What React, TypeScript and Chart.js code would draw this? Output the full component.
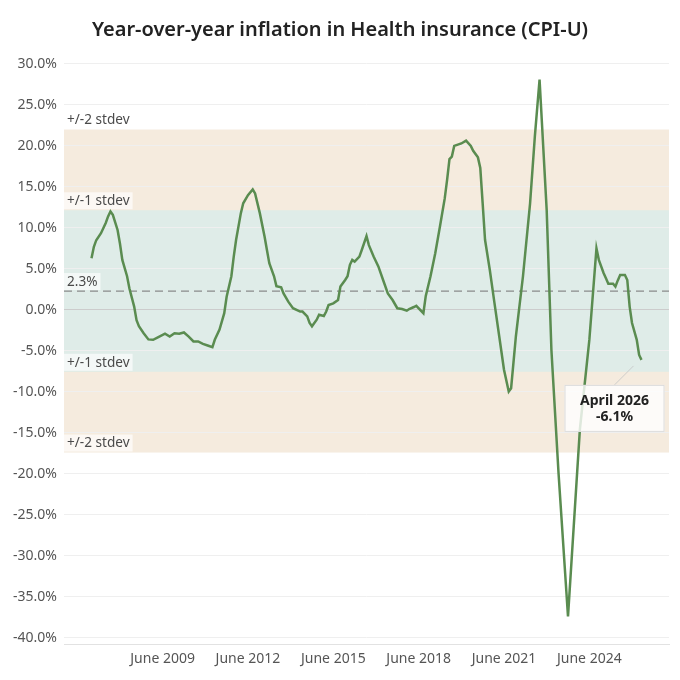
import React, { useEffect, useRef } from "react";
import { Chart, registerables } from "chart.js";

Chart.register(...registerables);

const TITLE = "Year-over-year inflation in Health insurance (CPI-U)";
const FONT = "'Noto Sans', 'DejaVu Sans', sans-serif";

const months = [
  "2006-12", "2007-01", "2007-02", "2007-04", "2007-06", "2007-07", "2007-08", "2007-09", "2007-11", "2007-12",
  "2008-01", "2008-03", "2008-04", "2008-06", "2008-07", "2008-08", "2008-10", "2008-12",
  "2009-02", "2009-04", "2009-07", "2009-09", "2009-11",
  "2010-01", "2010-03", "2010-05", "2010-07", "2010-09", "2010-11",
  "2011-01", "2011-03", "2011-04", "2011-06", "2011-08", "2011-09", "2011-11", "2011-12",
  "2012-01", "2012-03", "2012-04", "2012-06", "2012-08", "2012-09", "2012-11",
  "2013-01", "2013-02", "2013-03", "2013-05", "2013-06", "2013-08", "2013-09", "2013-11",
  "2014-01", "2014-04", "2014-05", "2014-07", "2014-08", "2014-09", "2014-11", "2014-12",
  "2015-02", "2015-03", "2015-04", "2015-06", "2015-08", "2015-09", "2015-11", "2015-12",
  "2016-01", "2016-02", "2016-03", "2016-05", "2016-06", "2016-08", "2016-09", "2016-11",
  "2017-01", "2017-03", "2017-05", "2017-07", "2017-09", "2017-11",
  "2018-01", "2018-02", "2018-04", "2018-05", "2018-08", "2018-09", "2018-11",
  "2019-01", "2019-03", "2019-05", "2019-06", "2019-07", "2019-08", "2019-09", "2019-12",
  "2020-02", "2020-04", "2020-05", "2020-07", "2020-08", "2020-09", "2020-10", "2020-12",
  "2021-02", "2021-04", "2021-06", "2021-08", "2021-09", "2021-11",
  "2022-02", "2022-05", "2022-07", "2022-09", "2022-12",
  "2023-02", "2023-05", "2023-09",
  "2024-02", "2024-06", "2024-09", "2024-10", "2024-12",
  "2025-01", "2025-02", "2025-04", "2025-05", "2025-06", "2025-07", "2025-09", "2025-10", "2025-11", "2025-12",
  "2026-02", "2026-03", "2026-04",
];

const values = [
  6.3, 7.7, 8.5, 9.35, 10.6, 11.4, 12.0, 11.6, 9.75, 8.1,
  6.1, 4.1, 2.6, 0.4, -1.25, -2.0, -2.85, -3.6,
  -3.65, -3.35, -2.9, -3.25, -2.85,
  -2.9, -2.75, -3.25, -3.85, -3.85, -4.15,
  -4.35, -4.55, -3.65, -2.4, -0.4, 1.6, 4.1, 6.5,
  8.55, 11.8, 13.0, 14.0, 14.7, 14.2, 11.8,
  8.95, 7.3, 5.7, 4.1, 2.9, 2.75, 2.0, 1.0,
  0.2, -0.2, -0.2, -0.8, -1.6, -2.0, -1.2, -0.6,
  -0.75, -0.2, 0.6, 0.8, 1.2, 2.85, 3.65, 4.1,
  5.5, 6.1, 5.9, 6.5, 7.3, 9.0, 7.9, 6.5,
  5.3, 3.65, 2.0, 1.2, 0.2, 0.1,
  -0.1, 0.1, 0.35, 0.5, -0.4, 1.7, 4.1,
  6.9, 10.2, 13.6, 15.85, 18.4, 18.7, 20.0, 20.3,
  20.65, 20.0, 19.4, 18.6, 17.3, 13.0, 8.55, 4.9,
  0.8, -3.25, -7.3, -9.95, -9.55, -3.25,
  4.1, 13.0, 21.1, 28.1, 12.2,
  -4.9, -19.9, -37.4,
  -14.6, -3.66, 7.5, 6.1, 4.5,
  3.85, 3.2, 3.2, 2.85, 3.6, 4.25, 4.25, 3.65, 0.4, -1.6,
  -3.65, -5.5, -6.1,
];

const xTickDates = ["2009-06", "2012-06", "2015-06", "2018-06", "2021-06", "2024-06"];
const xTickLabels = ["June 2009", "June 2012", "June 2015", "June 2018", "June 2021", "June 2024"];
const yTicks = [-40, -35, -30, -25, -20, -15, -10, -5, 0, 5, 10, 15, 20, 25, 30];
const monthNames = [
  "January", "February", "March", "April", "May", "June",
  "July", "August", "September", "October", "November", "December",
];

const MEAN = 2.3;
const STDEV = 9.85;
const band2Label = "+/-2 stdev";
const band1Label = "+/-1 stdev";

const toYear = (s: string) => {
  const [y, m] = s.split("-").map(Number);
  return y + (m - 1) / 12;
};

const bandsPlugin = {
  id: "bands",
  beforeDraw(chart: any) {
    const { ctx, chartArea, scales } = chart;
    const y = scales.y;
    const { left, right } = chartArea;
    ctx.save();
    const t2 = y.getPixelForValue(MEAN + 2 * STDEV);
    const b2 = y.getPixelForValue(MEAN - 2 * STDEV);
    ctx.fillStyle = "#f5ebde";
    ctx.fillRect(left, t2, right - left, b2 - t2);
    const t1 = y.getPixelForValue(MEAN + STDEV);
    const b1 = y.getPixelForValue(MEAN - STDEV);
    ctx.fillStyle = "#dfece8";
    ctx.fillRect(left, t1, right - left, b1 - t1);
    ctx.restore();
  },
  beforeDatasetsDraw(chart: any) {
    const { ctx, chartArea, scales } = chart;
    const y = scales.y;
    const { left, right } = chartArea;
    ctx.save();
    const ym = y.getPixelForValue(MEAN);
    ctx.strokeStyle = "#8a8a8a";
    ctx.lineWidth = 1.3;
    ctx.setLineDash([8, 5]);
    ctx.beginPath();
    ctx.moveTo(left, ym);
    ctx.lineTo(right, ym);
    ctx.stroke();
    ctx.setLineDash([]);

    const labels: [string, number][] = [
      [band2Label, MEAN + 2 * STDEV],
      [band1Label, MEAN + STDEV],
      [MEAN.toFixed(1) + "%", MEAN],
      [band1Label, MEAN - STDEV],
      [band2Label, MEAN - 2 * STDEV],
    ];
    ctx.font = `13.6px ${FONT}`;
    ctx.textBaseline = "middle";
    ctx.textAlign = "left";
    for (const [txt, v] of labels) {
      const py = y.getPixelForValue(v);
      const w = ctx.measureText(txt).width;
      ctx.fillStyle = "rgba(255,255,255,0.65)";
      ctx.fillRect(left, py - 18, w + 6, 17);
      ctx.fillStyle = "#4a4a4a";
      ctx.fillText(txt, left + 3, py - 9);
    }
    ctx.restore();
  },
  afterDatasetsDraw(chart: any) {
    const { ctx, scales } = chart;
    const x = scales.x;
    const y = scales.y;
    const lastM = months[months.length - 1];
    const lastV = values[values.length - 1];
    const px = x.getPixelForValue(toYear(lastM));
    const py = y.getPixelForValue(lastV);
    const [yr, mo] = lastM.split("-").map(Number);
    const line1 = `${monthNames[mo - 1]} ${yr}`;
    const line2 = `${lastV.toFixed(1)}%`;
    const boxW = 100;
    const boxH = 47;
    const cx = px - 27;
    const top = py + 25;
    ctx.save();
    ctx.strokeStyle = "#c4c4c4";
    ctx.lineWidth = 0.8;
    ctx.beginPath();
    ctx.moveTo(px - 8, py + 6);
    ctx.lineTo(cx, top);
    ctx.stroke();
    ctx.fillStyle = "rgba(255,255,255,0.8)";
    ctx.fillRect(cx - boxW / 2, top, boxW, boxH);
    ctx.strokeStyle = "#dcdcdc";
    ctx.lineWidth = 1;
    ctx.strokeRect(cx - boxW / 2 + 0.5, top + 0.5, boxW - 1, boxH - 1);
    ctx.fillStyle = "#222";
    ctx.font = `bold 14px ${FONT}`;
    ctx.textAlign = "center";
    ctx.textBaseline = "middle";
    ctx.fillText(line1, cx, top + 16);
    ctx.fillText(line2, cx, top + 32);
    ctx.restore();
  },
};

export default function App() {
  const ref = useRef<HTMLCanvasElement | null>(null);

  useEffect(() => {
    if (!ref.current) return;
    const xs = months.map(toYear);
    const span = xs[xs.length - 1] - xs[0];
    const pad = span * 0.05;
    const chart = new Chart(ref.current, {
      type: "line",
      data: {
        datasets: [
          {
            data: xs.map((xv, i) => ({ x: xv, y: values[i] })),
            borderColor: "#5a8c50",
            borderWidth: 2.5,
            pointRadius: 0,
            tension: 0,
            fill: false,
          },
        ],
      },
      options: {
        animation: false,
        responsive: false,
        layout: { padding: { left: 0, right: 0, top: 0, bottom: 0 } },
        plugins: {
          legend: { display: false },
          tooltip: { enabled: false },
          title: {
            display: true,
            text: TITLE,
            color: "#222",
            font: { family: FONT, size: 20, weight: "600" },
            padding: { top: 18, bottom: 17 },
          },
        },
        scales: {
          x: {
            type: "linear",
            min: xs[0] - pad,
            max: xs[xs.length - 1] + pad,
            afterBuildTicks: (s: any) => {
              s.ticks = xTickDates.map((d) => ({ value: toYear(d) }));
            },
            afterFit: (s: any) => {
              s.height = 36;
            },
            grid: { display: false, drawTicks: false },
            border: { display: true, color: "#e2e2e2", dash: [2, 2] },
            ticks: {
              autoSkip: false,
              maxRotation: 0,
              padding: 7,
              color: "#555",
              font: { family: FONT, size: 14 },
              callback: (_v: any, i: number) => xTickLabels[i],
            },
          },
          y: {
            min: -40.75,
            max: 30.6,
            afterBuildTicks: (s: any) => {
              s.ticks = yTicks.map((v) => ({ value: v }));
            },
            afterFit: (s: any) => {
              s.width = 64;
            },
            grid: {
              drawTicks: false,
              color: (c: any) => (c.tick && c.tick.value === 0 ? "#cccccc" : "#efefef"),
            },
            border: { display: false },
            ticks: {
              padding: 7,
              color: "#555",
              font: { family: FONT, size: 14 },
              callback: (v: any) => Number(v).toFixed(1) + "%",
            },
          },
          yRight: {
            position: "right",
            display: true,
            afterFit: (s: any) => {
              s.width = 11;
            },
            grid: { display: false, drawTicks: false },
            border: { display: false },
            ticks: { display: false },
          },
        },
      },
      plugins: [bandsPlugin],
    } as any);
    return () => chart.destroy();
  }, []);

  return (
    <div style={{ position: "absolute", left: 0, top: 0, width: 680, height: 680 }}>
      <canvas ref={ref} width={680} height={680} style={{ width: 680, height: 680 }} />
    </div>
  );
}
